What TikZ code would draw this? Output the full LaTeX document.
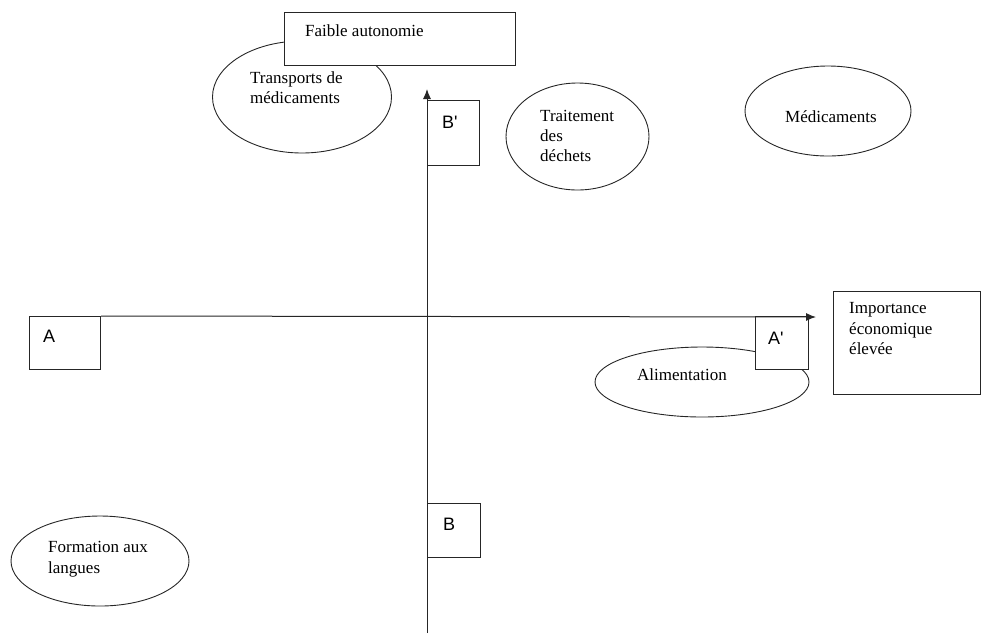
\documentclass[tikz,border=0pt]{standalone}
\usepackage{fontspec}
\setmainfont{Liberation Serif}
\newfontfamily\lserif{Liberation Serif}
\newfontfamily\lsans{Liberation Sans}
\usetikzlibrary{shapes.geometric,arrows.meta}
\begin{document}
\begin{tikzpicture}[x=1pt,y=-1pt,
  oval/.style={draw=black!85, ellipse, inner sep=0pt, line width=0.9pt},
  box/.style={draw=black!85, fill=white, rectangle, inner sep=0pt, line width=1pt, anchor=north west},
  txt/.style={anchor=base west, inner sep=0pt, font=\lserif\fontsize{17}{20}\selectfont},
  letter/.style={anchor=base west, inner sep=0pt, font=\lsans\fontsize{18}{20}\selectfont},
  axis/.style={draw=black!85, line width=1pt, -{Latex[length=10pt,width=8pt]}}]
\useasboundingbox (0,0) rectangle (981,633);

% ellipses
\node[oval, minimum width=179pt, minimum height=112pt] (transp) at (302,97) {};
\node[oval, minimum width=143pt, minimum height=107pt] (trait) at (577.5,136.5) {};
\node[oval, minimum width=166pt, minimum height=90pt] (medic) at (828,111) {};
\node[oval, minimum width=214pt, minimum height=70pt] (alim) at (702,382) {};
\node[oval, minimum width=178pt, minimum height=90pt] (form) at (100,561) {};

% axes
\coordinate (vbot) at (427,633);
\coordinate (vtop) at (427,89);
\coordinate (hend) at (816,317);
\draw[axis] (vbot) -- (vtop);

% boxes
\node[box, minimum width=231pt, minimum height=53pt] (faible) at (284,12) {};
\node[box, minimum width=52pt, minimum height=65pt] (Bp) at (427,100) {};
\node[box, minimum width=71pt, minimum height=53pt] (A) at (29,316) {};
\node[box, minimum width=53pt, minimum height=53pt] (Ap) at (755,316) {};
\node[box, minimum width=53pt, minimum height=54pt] (B) at (427,503) {};
\node[box, minimum width=147pt, minimum height=103pt] (imp) at (833,291) {};

\draw[axis] (A.north east) -- (hend);

% texts
\node[txt] (t1) at (305,36) {Faible autonomie};
\node[txt] (t2) at (250,83) {Transports de};
\node[txt] (t3) at (250,103) {médicaments};
\node[txt] (t4) at (540,121) {Traitement};
\node[txt] (t5) at (540,141) {des};
\node[txt] (t6) at (540,161) {déchets};
\node[txt] (t7) at (785,122) {Médicaments};
\node[txt] (t8) at (849,313) {Importance};
\node[txt] (t9) at (849,334) {économique};
\node[txt] (t10) at (849,354) {élevée};
\node[txt] (t11) at (637,380) {Alimentation};
\node[txt] (t12) at (48,552) {Formation aux};
\node[txt] (t13) at (48,573) {langues};

\node[letter] (lA) at (43,342) {A};
\node[letter] (lAp) at (768,344) {A'};
\node[letter] (lBp) at (442,128) {B'};
\node[letter] (lB) at (443,530) {B};
\end{tikzpicture}
\end{document}
